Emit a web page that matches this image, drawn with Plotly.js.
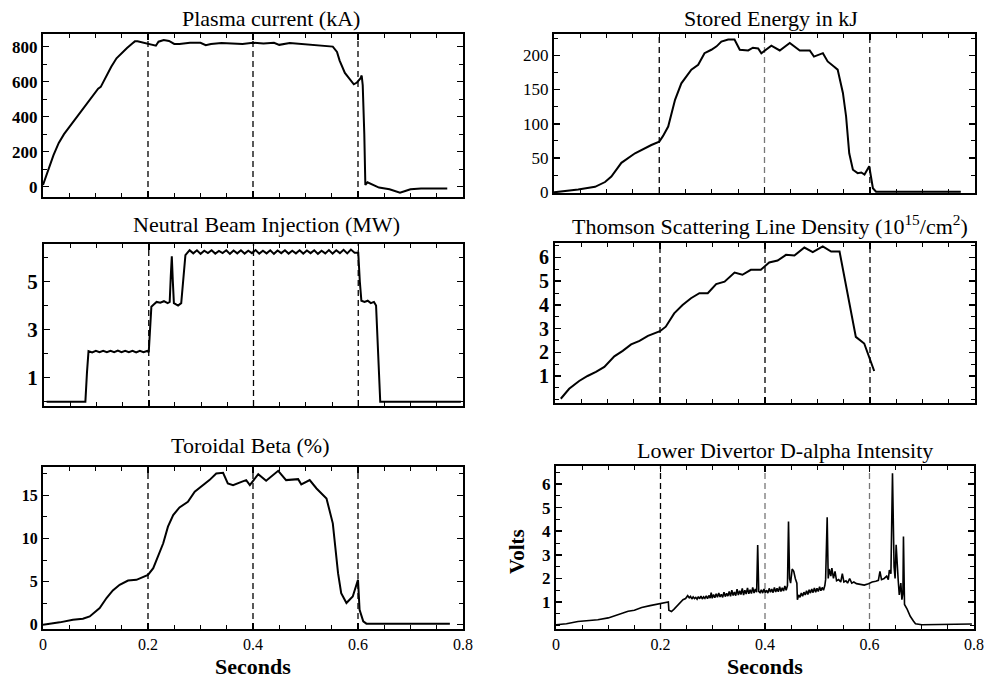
<!DOCTYPE html>
<html><head><meta charset="utf-8">
<script src="https://cdn.plot.ly/plotly-3.0.1.min.js"></script>
<style>html,body{margin:0;padding:0;background:#fff}#chart{width:988px;height:679px}</style>
</head><body><div id="chart"></div>
<script>
// ---------- DATA ----------
const panelTitles = ["Plasma current (kA)", "Stored Energy in kJ", "Neutral Beam Injection (MW)",
  "Thomson Scattering Line Density (10<sup>15</sup>/cm<sup>2</sup>)", "Toroidal Beta (%)", "Lower Divertor D-alpha Intensity"];
const xAxisLabel = "Seconds";
const yAxisLabel6 = "Volts";
const markTimes = [0.2, 0.4, 0.6];

// Plasma current (kA)
const ipT = [0,0.01,0.02,0.03,0.04,0.05,0.06,0.07,0.08,0.09,0.10,0.105,0.11,0.12,0.13,0.14,0.15,0.16,0.17,0.175,0.18,0.19,0.20,0.21,0.215,0.22,0.23,0.24,0.25,0.26,0.28,0.30,0.31,0.32,0.34,0.36,0.38,0.40,0.42,0.44,0.45,0.47,0.49,0.51,0.53,0.552,0.56,0.565,0.575,0.585,0.592,0.598,0.605,0.607,0.609,0.612,0.614,0.618,0.625,0.64,0.66,0.68,0.69,0.70,0.72,0.74,0.77];
const ipV = [10,100,180,250,300,340,380,420,460,500,535,560,570,630,685,733,765,792,818,830,830,822,818,808,805,828,838,832,815,815,822,822,808,815,820,818,815,822,818,822,810,820,815,812,808,800,770,720,650,610,585,595,620,635,580,300,10,25,15,-5,-15,-35,-25,-15,-10,-10,-10];

// Stored energy (kJ)
const seT = [0,0.046,0.078,0.097,0.109,0.128,0.154,0.166,0.185,0.2,0.207,0.217,0.23,0.242,0.261,0.274,0.286,0.299,0.309,0.318,0.331,0.343,0.353,0.369,0.378,0.388,0.394,0.413,0.429,0.448,0.467,0.486,0.494,0.511,0.52,0.533,0.539,0.549,0.555,0.561,0.568,0.577,0.584,0.59,0.599,0.606,0.612,0.65,0.773];
const seV = [0,4,8,15,23,43,57,62,69,74,82,96,135,159,179,186,203,208,213,220,223,223,208,207,211,210,203,214,207,218,207,207,198,203,191,183,179,145,111,57,33,28,29,26,38,6,1,1,1];

// Neutral beam injection (MW)
const nbT = [0.005,0.079,0.082,0.085,0.092,0.099,0.106,0.113,0.120,0.127,0.134,0.141,0.148,0.155,0.162,0.169,0.176,0.183,0.190,0.197,0.200,
  0.202,0.205,0.210,0.215,0.222,0.229,0.236,0.240,0.242,0.244,0.246,0.248,0.252,0.256,0.262,0.266,0.270,0.274,
  0.278,0.285,0.292,0.299,0.306,0.313,0.320,0.327,0.334,0.341,0.348,0.355,0.362,0.369,0.376,0.383,0.390,0.397,0.404,0.411,0.418,0.425,0.432,0.439,0.446,0.453,0.460,0.467,0.474,0.481,0.488,0.495,0.502,0.509,0.516,0.523,0.530,0.537,0.544,0.551,0.558,0.565,0.572,0.579,0.586,0.593,
  0.600,0.603,0.606,0.612,0.618,0.624,0.630,0.634,0.638,0.642,0.796];
const nbV = [0,0,1.2,2.1,2.05,2.12,2.06,2.12,2.06,2.12,2.06,2.13,2.06,2.12,2.06,2.12,2.05,2.12,2.06,2.11,2.06,
  3.0,3.95,4.05,4.15,4.12,4.18,4.1,4.15,5.2,6.05,5.0,4.1,4.05,4.0,4.1,5.0,6.1,6.2,
  6.3,6.17,6.3,6.15,6.28,6.18,6.3,6.16,6.27,6.18,6.3,6.15,6.29,6.17,6.3,6.16,6.28,6.18,6.31,6.16,6.28,6.17,6.3,6.15,6.29,6.18,6.3,6.16,6.28,6.17,6.3,6.16,6.29,6.18,6.3,6.15,6.28,6.17,6.31,6.16,6.3,6.18,6.32,6.17,6.33,6.2,
  6.2,5.0,4.2,4.15,4.2,4.1,4.15,4.0,2.0,0,0];

// Thomson scattering line density (1e15/cm^2)
const tsT = [0.011,0.027,0.046,0.062,0.078,0.094,0.113,0.129,0.145,0.161,0.177,0.2,0.211,0.227,0.243,0.259,0.275,0.291,0.307,0.323,0.342,0.357,0.373,0.392,0.408,0.424,0.44,0.456,0.475,0.491,0.51,0.526,0.542,0.573,0.589,0.608];
const tsV = [0.04,0.46,0.79,1.0,1.17,1.38,1.83,2.06,2.33,2.48,2.69,2.89,3.08,3.64,3.99,4.28,4.49,4.49,4.88,4.98,5.36,5.27,5.48,5.48,5.79,5.87,6.11,6.08,6.42,6.23,6.47,6.25,6.25,2.65,2.37,1.21];

// Toroidal beta (%)
const tbT = [0,0.032,0.057,0.076,0.089,0.108,0.121,0.133,0.146,0.162,0.178,0.2,0.21,0.219,0.229,0.238,0.248,0.26,0.276,0.289,0.302,0.317,0.33,0.343,0.352,0.362,0.378,0.387,0.394,0.41,0.425,0.448,0.463,0.486,0.492,0.508,0.521,0.54,0.552,0.562,0.568,0.578,0.59,0.6,0.603,0.61,0.616,0.775];
const tbV = [0,0.27,0.58,0.69,0.96,1.93,3.09,3.97,4.63,5.13,5.21,5.78,6.56,7.9,9.45,11.38,12.73,13.61,14.27,15.43,16.08,16.78,17.55,17.62,16.39,16.2,16.58,16.78,16.2,17.47,16.7,17.86,16.78,16.89,16.27,16.78,15.81,14.65,11.76,5.98,3.66,2.51,3.28,5.21,1.74,0.39,0.12,0.1];

// Lower divertor D-alpha intensity (Volts), [time, value] samples
const daPts = [
  [0,0.04],[0.02,0.08],[0.042,0.18],[0.06,0.2],[0.08,0.25],[0.1,0.33],[0.112,0.42],[0.125,0.52],[0.138,0.61],[0.15,0.65],[0.164,0.77],[0.18,0.85],[0.2,0.95],[0.208,0.97],[0.215,1.0],
  [0.216,0.65],[0.221,0.6],[0.226,0.7],[0.232,0.85],[0.237,0.95],[0.243,1.1],[0.248,1.15],[0.252,1.27],
  [0.255,1.18],[0.2575,1.24],[0.26,1.13],[0.2625,1.22],[0.265,1.15],[0.2675,1.2],[0.27,1.12],[0.2725,1.23],[0.275,1.14],[0.2775,1.25],
  [0.28,1.13],[0.2825,1.22],[0.285,1.16],[0.2875,1.26],[0.29,1.14],[0.2925,1.28],[0.295,1.17],[0.297,1.4],[0.299,1.16],[0.3015,1.32],
  [0.304,1.18],[0.3065,1.35],[0.309,1.2],[0.3115,1.38],[0.314,1.22],[0.3165,1.33],[0.319,1.2],[0.3215,1.42],[0.324,1.23],[0.3265,1.37],
  [0.329,1.25],[0.3315,1.45],[0.334,1.24],[0.3365,1.5],[0.339,1.28],[0.3415,1.42],[0.344,1.27],[0.3465,1.55],[0.349,1.3],[0.3515,1.48],
  [0.354,1.32],[0.3565,1.58],[0.359,1.3],[0.3615,1.5],[0.364,1.34],[0.3665,1.6],[0.369,1.35],[0.3715,1.52],[0.374,1.36],[0.3765,1.62],
  [0.379,1.38],[0.3815,1.55],[0.384,1.42],[0.386,3.42],[0.388,1.45],[0.3905,1.4],[0.393,1.52],[0.3955,1.38],[0.398,1.55],[0.4005,1.4],
  [0.403,1.5],[0.4055,1.38],[0.408,1.58],[0.4105,1.42],[0.413,1.55],[0.4155,1.4],[0.418,1.62],[0.4205,1.43],[0.423,1.58],[0.4255,1.44],
  [0.428,1.65],[0.4305,1.45],[0.433,1.6],[0.4355,1.47],[0.438,1.68],[0.4405,1.5],[0.443,1.7],[0.445,4.41],[0.447,2.0],[0.449,1.8],
  [0.452,2.4],[0.455,2.3],[0.458,2.0],[0.461,1.8],
  [0.462,1.1],[0.4645,1.3],[0.467,1.2],[0.4695,1.38],[0.472,1.25],[0.4745,1.42],[0.477,1.3],[0.4795,1.48],[0.482,1.32],[0.4845,1.52],
  [0.487,1.38],[0.4895,1.55],[0.492,1.4],[0.4945,1.6],[0.497,1.42],[0.4995,1.58],[0.502,1.45],[0.5045,1.65],[0.507,1.48],[0.5095,1.62],
  [0.512,1.5],[0.5145,1.7],[0.516,1.95],[0.519,4.59],[0.521,2.0],[0.523,2.4],[0.526,2.1],[0.528,2.44],[0.531,2.0],[0.534,2.3],
  [0.537,1.9],[0.541,1.95],[0.545,1.85],[0.548,2.2],[0.551,1.85],[0.555,1.9],[0.558,1.8],[0.562,2.0],[0.566,1.8],[0.57,1.85],
  [0.575,1.78],[0.58,1.75],[0.59,1.72],[0.598,1.78],[0.605,1.85],[0.612,1.88],[0.617,1.92],[0.62,2.3],[0.623,1.95],[0.628,2.0],
  [0.633,2.1],[0.636,1.95],[0.638,2.35],[0.641,2.2],[0.644,6.45],[0.647,2.5],[0.649,2.0],[0.651,3.42],[0.653,2.4],[0.655,1.9],
  [0.657,1.3],[0.66,1.8],[0.662,1.1],[0.664,1.4],[0.665,3.77],[0.667,0.9],[0.672,0.7],[0.678,0.4],[0.684,0.2],[0.688,0.08],
  [0.7,0.04],[0.713,0.04],[0.75,0.06],[0.796,0.07]
];
const daT = daPts.map(p=>p[0]);
const daV = daPts.map(p=>p[1]);

// ---------- LAYOUT ----------
const SERIF = "Liberation Serif, 'Times New Roman', Times, serif";
const W = 988, H = 679;
function px2x(a,b){return [a/W, b/W];}
function px2y(top,bot){return [1-bot/H, 1-top/H];}

const boxes = [
  {x:[43,463], y:[34,197]},
  {x:[554,975], y:[34,193]},
  {x:[44,463], y:[244,406]},
  {x:[555,975], y:[243,403]},
  {x:[43,463], y:[467,629]},
  {x:[556,974], y:[466,629]}
];

function xax(i, labels){
  return {domain:px2x(boxes[i].x[0],boxes[i].x[1]), anchor:'y'+(i===0?'':i+1), range:[0,0.8],
    tick0:0, dtick:0.2, ticks:'inside', ticklen:6, tickwidth:1.5, tickcolor:'#000',
    showline:true, linewidth:2, linecolor:'#000', mirror:'ticks', showgrid:false, zeroline:false,
    showticklabels:labels, tickfont:{family:SERIF, size:16, color:'#000'},
    minor:{dtick:0.05, tick0:0, ticks:'inside', ticklen:4, tickwidth:1, tickcolor:'#000', showgrid:false},
    fixedrange:true};
}
function yax(i, range, opts){
  const a = {domain:px2y(boxes[i].y[0],boxes[i].y[1]), anchor:'x'+(i===0?'':i+1), range:range,
    ticks:'inside', ticklen:6, tickwidth:1.5, tickcolor:'#000',
    showline:true, linewidth:2, linecolor:'#000', mirror:'ticks', showgrid:false, zeroline:false,
    tickfont:{family:SERIF, size:opts.size, color:'#000', weight:opts.weight},
    minor:{dtick:opts.minor, tick0:0, ticks:'inside', ticklen:4, tickwidth:1, tickcolor:'#000', showgrid:false},
    fixedrange:true};
  if (opts.tickvals) a.tickvals = opts.tickvals; else {a.tick0 = 0; a.dtick = opts.dtick;}
  return a;
}

const layout = {
  width:W, height:H, margin:{l:0,r:0,t:0,b:0}, showlegend:false,
  paper_bgcolor:'#fff', plot_bgcolor:'#fff',
  xaxis: xax(0,false), xaxis2: xax(1,false), xaxis3: xax(2,false),
  xaxis4: xax(3,false), xaxis5: xax(4,true), xaxis6: xax(5,true),
  yaxis:  yax(0,[-59,872],{dtick:200, minor:100, size:17, weight:'bold'}),
  yaxis2: yax(1,[-1,231],{dtick:50, minor:25, size:17, weight:'normal'}),
  yaxis3: yax(2,[-0.18,6.56],{tickvals:[1,3,5], minor:1, size:21, weight:'bold'}),
  yaxis4: yax(3,[-0.14,6.61],{tickvals:[1,2,3,4,5,6], minor:0.5, size:20, weight:'bold'}),
  yaxis5: yax(4,[-0.5,18.3],{dtick:5, minor:2.5, size:16, weight:'bold'}),
  yaxis6: yax(5,[-0.14,6.76],{tickvals:[1,2,3,4,5,6], minor:0.5, size:17, weight:'bold'}),
  shapes: [], annotations: []
};

// dashed time markers
const markColors = [['#000','#000','#000'],['#000','#777','#222'],['#000','#000','#000'],
                    ['#000','#000','#000'],['#000','#000','#000'],['#000','#777','#777']];
for (let i=0;i<6;i++){
  const s = i===0?'':String(i+1);
  markTimes.forEach((t,k)=>{
    layout.shapes.push({type:'line', xref:'x'+s, yref:'y'+s+' domain', x0:t, x1:t, y0:0, y1:1,
      line:{color:markColors[i][k], width:1.3, dash:'6px,4px'}, layer:'below'});
  });
}

// panel titles
const titlePos = [[271,18],[771,18],[266,225],[770,225],[251,445],[785,450]];
panelTitles.forEach((t,i)=>{
  layout.annotations.push({text:t, xref:'paper', yref:'paper', x:titlePos[i][0]/W, y:1-titlePos[i][1]/H,
    xanchor:'center', yanchor:'middle', showarrow:false, font:{family:SERIF, size:22, color:'#000'}});
});
// axis labels
[[253,666],[765,666]].forEach(p=>{
  layout.annotations.push({text:'<b>'+xAxisLabel+'</b>', xref:'paper', yref:'paper', x:p[0]/W, y:1-p[1]/H,
    xanchor:'center', yanchor:'middle', showarrow:false, borderpad:0, font:{family:SERIF, size:22, color:'#000'}});
});
layout.annotations.push({text:'<b>'+yAxisLabel6+'</b>', xref:'paper', yref:'paper', x:517/W, y:1-552/H,
  xanchor:'center', yanchor:'middle', textangle:-90, showarrow:false, font:{family:SERIF, size:21, color:'#000'}});

const series = [[ipT,ipV],[seT,seV],[nbT,nbV],[tsT,tsV],[tbT,tbV],[daT,daV]];
const data = series.map((s,i)=>({
  x:s[0], y:s[1], type:'scatter', mode:'lines',
  xaxis:'x'+(i===0?'':i+1), yaxis:'y'+(i===0?'':i+1),
  line:{color:'#000', width: i===5?1.6:2}, hoverinfo:'skip'
}));

Plotly.newPlot('chart', data, layout, {displayModeBar:false, staticPlot:true});
</script>
</body></html>
